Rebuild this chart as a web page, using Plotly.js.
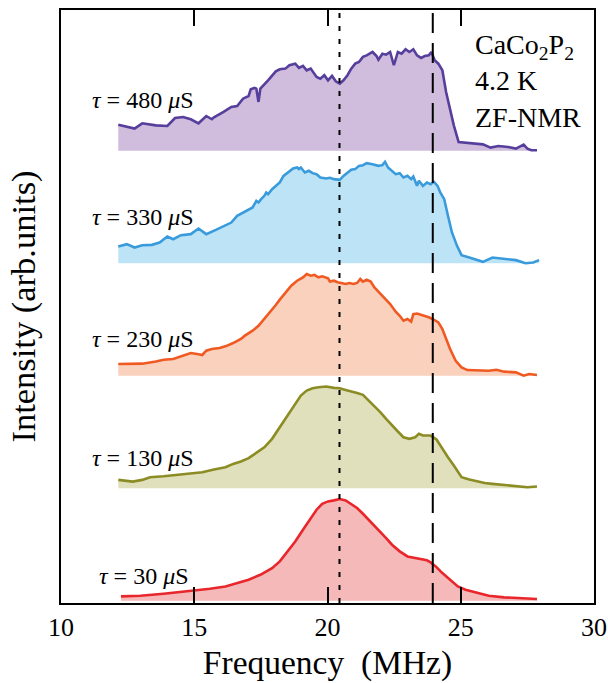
<!DOCTYPE html>
<html>
<head>
<meta charset="utf-8">
<script src="https://cdn.plot.ly/plotly-3.0.1.min.js"></script>
<style>
  html, body { margin: 0; padding: 0; background: #fff; }
  #chart { width: 608px; height: 683px; }
</style>
</head>
<body>
<div id="chart"></div>
<script>
// ZF-NMR spectra of CaCo2P2 at 4.2 K for several pulse separations tau.
// Frequencies in MHz, intensities in arbitrary units (each spectrum normalised).

const tauLabels = ["480", "330", "230", "130", "30"];

const f480 = [12.15,12.76,13.05,13.56,13.99,14.28,14.58,14.87,15.16,15.45,15.66,15.74,16.10,16.39,16.61,16.83,17.04,17.12,17.26,17.33,17.41,17.48,17.77,18.06,18.21,18.42,18.57,18.79,18.93,19.08,19.22,19.37,19.59,19.73,19.88,20.02,20.17,20.31,20.46,20.60,20.75,20.89,21.04,21.18,21.33,21.47,21.69,21.84,21.91,22.06,22.20,22.35,22.49,22.64,22.78,22.93,23.07,23.22,23.36,23.51,23.65,23.80,23.90,24.02,24.16,24.31,24.45,24.60,24.74,24.92,25.18,25.47,25.83,26.12,26.41,26.78,27.07,27.36,27.50,27.65,27.86];
const i480 = [0.231,0.196,0.243,0.225,0.219,0.290,0.299,0.279,0.243,0.308,0.279,0.296,0.344,0.388,0.397,0.462,0.486,0.545,0.557,0.551,0.433,0.551,0.625,0.705,0.723,0.729,0.759,0.773,0.735,0.753,0.714,0.729,0.655,0.640,0.670,0.625,0.664,0.616,0.596,0.625,0.670,0.729,0.773,0.788,0.833,0.847,0.877,0.841,0.809,0.862,0.853,0.877,0.759,0.877,0.862,0.901,0.877,0.901,0.847,0.824,0.841,0.847,0.877,0.803,0.773,0.714,0.521,0.373,0.225,0.077,0.071,0.059,0.056,0.027,0.041,0.033,0.018,0.053,0.018,0.003,0.003];

const f330 = [12.15,12.47,12.76,13.05,13.41,13.70,13.99,14.21,14.50,14.87,15.16,15.45,15.81,16.10,16.39,16.61,16.83,17.04,17.19,17.33,17.41,17.51,17.63,17.70,17.77,17.92,18.06,18.21,18.35,18.57,18.71,18.86,18.93,19.00,19.15,19.30,19.44,19.59,19.73,19.95,20.09,20.24,20.46,20.60,20.75,20.89,21.04,21.18,21.33,21.47,21.69,21.91,22.06,22.16,22.27,22.42,22.56,22.71,22.85,23.00,23.14,23.22,23.36,23.43,23.58,23.73,23.87,23.99,24.13,24.23,24.38,24.52,24.67,24.86,25.03,25.32,25.83,26.19,26.63,27.07,27.43,27.72,27.94];
const i330 = [0.148,0.169,0.139,0.160,0.163,0.184,0.237,0.213,0.249,0.258,0.308,0.258,0.296,0.326,0.361,0.421,0.450,0.474,0.495,0.554,0.539,0.569,0.599,0.628,0.613,0.658,0.687,0.717,0.776,0.812,0.841,0.850,0.836,0.850,0.806,0.821,0.800,0.791,0.761,0.753,0.759,0.747,0.741,0.776,0.806,0.830,0.836,0.865,0.871,0.889,0.880,0.865,0.871,0.901,0.850,0.821,0.791,0.800,0.761,0.776,0.747,0.770,0.687,0.732,0.687,0.717,0.702,0.723,0.687,0.628,0.569,0.421,0.273,0.154,0.071,0.050,0.012,0.050,0.036,0.027,0.000,0.006,0.027];

const f230 = [12.15,13.05,13.56,13.85,14.21,14.58,14.87,15.16,15.30,15.45,15.66,15.95,16.17,16.46,16.61,16.75,16.90,17.19,17.41,17.63,17.84,18.06,18.21,18.42,18.64,18.86,19.08,19.22,19.37,19.51,19.66,19.80,20.02,20.09,20.24,20.38,20.53,20.68,20.82,20.97,21.11,21.23,21.33,21.47,21.62,21.76,21.91,22.13,22.35,22.56,22.71,22.85,23.00,23.14,23.22,23.36,23.58,23.80,23.94,24.16,24.31,24.45,24.60,24.81,25.03,25.25,25.61,26.05,26.34,26.63,27.07,27.36,27.57,27.86];
const i230 = [0.104,0.107,0.127,0.142,0.148,0.178,0.201,0.190,0.184,0.222,0.237,0.246,0.261,0.290,0.311,0.326,0.356,0.400,0.444,0.504,0.569,0.628,0.676,0.735,0.800,0.844,0.874,0.904,0.889,0.895,0.874,0.883,0.865,0.836,0.844,0.830,0.824,0.815,0.824,0.815,0.824,0.859,0.836,0.853,0.836,0.785,0.747,0.696,0.637,0.569,0.533,0.489,0.504,0.480,0.547,0.553,0.539,0.519,0.504,0.474,0.415,0.326,0.237,0.133,0.074,0.050,0.050,0.044,0.053,0.036,0.030,0.000,0.015,0.006];

const f130 = [12.15,12.69,13.05,13.34,13.85,14.43,14.87,15.30,15.74,16.17,16.46,16.75,17.04,17.33,17.63,17.92,18.13,18.35,18.57,18.79,19.00,19.22,19.44,19.66,19.95,20.24,20.46,20.68,20.89,21.11,21.33,21.55,21.76,21.98,22.20,22.42,22.64,22.85,23.07,23.29,23.43,23.58,23.87,24.09,24.31,24.52,24.74,25.03,25.32,25.61,25.90,26.19,26.63,27.21,27.50,27.86];
const i130 = [0.074,0.059,0.074,0.098,0.107,0.119,0.127,0.142,0.166,0.187,0.216,0.237,0.267,0.314,0.364,0.439,0.513,0.601,0.676,0.750,0.824,0.868,0.889,0.898,0.904,0.892,0.889,0.874,0.862,0.847,0.830,0.779,0.735,0.676,0.616,0.557,0.504,0.453,0.439,0.453,0.483,0.468,0.468,0.433,0.350,0.276,0.202,0.098,0.077,0.059,0.047,0.039,0.030,0.018,0.009,0.015];

const f30 = [12.25,12.98,13.85,14.58,15.01,15.59,16.17,16.61,17.04,17.48,17.92,18.21,18.50,18.79,19.08,19.37,19.59,19.80,20.02,20.24,20.46,20.68,20.89,21.11,21.33,21.55,21.76,21.98,22.20,22.42,22.71,23.00,23.29,23.58,23.73,23.87,24.09,24.31,24.60,24.89,25.18,25.61,26.05,26.63,27.21,27.86];
const i30 = [0.039,0.044,0.062,0.080,0.092,0.107,0.127,0.157,0.187,0.231,0.290,0.350,0.439,0.527,0.631,0.735,0.809,0.862,0.883,0.892,0.904,0.892,0.862,0.824,0.773,0.720,0.661,0.616,0.557,0.498,0.439,0.394,0.379,0.364,0.359,0.341,0.299,0.246,0.187,0.127,0.098,0.068,0.044,0.030,0.021,0.015];

// Reference frequencies marked by vertical lines (MHz)
const dottedFreq = 20.45;
const dashedFreq = 23.95;

const xTicks = [10, 15, 20, 25, 30];

// Series definitions: data, vertical offset in the stack, colours
const series = [
  { tau: tauLabels[0], f: f480, v: i480, offset: 4, line: "#563f9c", fill: "#d0bcdc", labelDy: 0.45, labelX: 11.1 },
  { tau: tauLabels[1], f: f330, v: i330, offset: 3, line: "#3a9bdc", fill: "#bde3f7", labelDy: 0.41, labelX: 11.1 },
  { tau: tauLabels[2], f: f230, v: i230, offset: 2, line: "#f05a22", fill: "#f9d1bd", labelDy: 0.33, labelX: 11.1 },
  { tau: tauLabels[3], f: f130, v: i130, offset: 1, line: "#8c8c24", fill: "#e1e0bd", labelDy: 0.27, labelX: 11.1 },
  { tau: tauLabels[4], f: f30,  v: i30,  offset: 0, line: "#e8262b", fill: "#f5b9b9", labelDy: 0.22, labelX: 11.36 }
];

const FONT = "'Liberation Serif', 'Times New Roman', Times, serif";

const traces = [];
const annotations = [];
series.forEach(s => {
  const x0 = s.f[0], x1 = s.f[s.f.length - 1];
  // baseline for the filled area
  traces.push({
    x: [x0, x1], y: [s.offset, s.offset],
    mode: "lines", line: { width: 0, color: s.fill },
    hoverinfo: "skip", showlegend: false
  });
  traces.push({
    x: s.f, y: s.v.map(v => v + s.offset),
    mode: "lines", fill: "tonexty", fillcolor: s.fill,
    line: { color: s.line, width: 2.6 },
    showlegend: false
  });
  annotations.push({
    x: s.labelX, y: s.offset + s.labelDy, xref: "x", yref: "y",
    xanchor: "left", yanchor: "middle", showarrow: false,
    text: "<i>τ</i> = " + s.tau + " <i>μ</i>S",
    font: { family: FONT, size: 24, color: "#000" }
  });
});

annotations.push({
  x: 25.46, y: 4.62, xref: "x", yref: "y",
  xanchor: "left", yanchor: "middle", align: "left", showarrow: false,
  text: "CaCo<sub>2</sub>P<sub>2</sub><br>4.2 K<br>ZF-NMR",
  font: { family: FONT, size: 28, color: "#000" }
});

const layout = {
  width: 608, height: 683,
  margin: { l: 61, r: 14, t: 10, b: 80 },
  paper_bgcolor: "#fff", plot_bgcolor: "#fff",
  font: { family: FONT, color: "#000" },
  xaxis: {
    range: [10, 30], tickvals: xTicks, ticktext: xTicks.map(String),
    ticks: "inside", ticklen: 16, tickwidth: 2, tickcolor: "#000",
    showline: true, linewidth: 2, linecolor: "#000", mirror: "ticks",
    showgrid: false, zeroline: false,
    tickfont: { family: FONT, size: 26, color: "#000" },
    title: { text: "Frequency  (MHz)", font: { family: FONT, size: 33.5, color: "#000" }, standoff: 9 }
  },
  yaxis: {
    range: [-0.02, 5.25],
    showticklabels: false, ticks: "",
    showline: true, linewidth: 2, linecolor: "#000", mirror: true,
    showgrid: false, zeroline: false,
    title: { text: "Intensity (arb.units)", font: { family: FONT, size: 34.5, color: "#000" }, standoff: 13 }
  },
  shapes: [
    { type: "line", xref: "x", yref: "paper", x0: dottedFreq, x1: dottedFreq, y0: 0, y1: 1,
      line: { color: "#000", width: 2, dash: "5px,8px" } },
    { type: "line", xref: "x", yref: "paper", x0: dashedFreq, x1: dashedFreq, y0: 0, y1: 1,
      line: { color: "#000", width: 2, dash: "20px,10px" } }
  ],
  annotations: annotations
};

Plotly.newPlot("chart", traces, layout, { staticPlot: true, displayModeBar: false });
</script>
</body>
</html>
